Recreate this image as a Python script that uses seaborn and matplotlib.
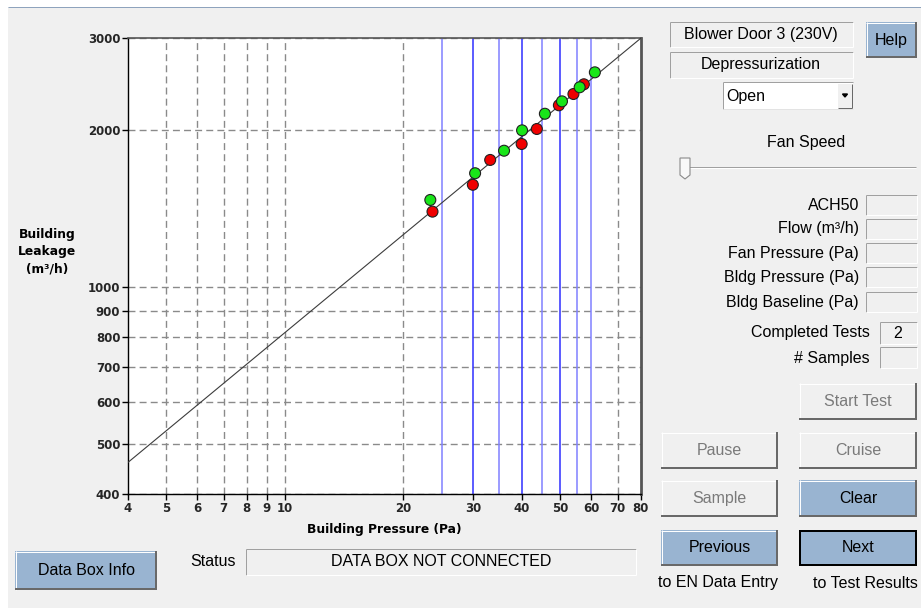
import matplotlib
matplotlib.use("Agg")
import matplotlib.pyplot as plt
import seaborn as sns
import pandas as pd
from matplotlib.patches import Rectangle, Polygon
from matplotlib.lines import Line2D
from matplotlib.ticker import NullLocator

# Building pressure (Pa) and measured leakage (m³/h) for the two completed tests
test1_pressure = [23.4, 30.4, 36.0, 40.0, 45.7, 50.5, 56.0, 61.2]
test1_flow = [1468, 1652, 1825, 1997, 2149, 2270, 2416, 2581]
test2_pressure = [23.7, 30.0, 33.2, 39.9, 43.6, 49.6, 54.0, 57.4]
test2_flow = [1394, 1570, 1752, 1880, 2009, 2231, 2345, 2448]

# Power-law fit drawn across the full pressure range
fit_pressure = [4, 80]
fit_flow = [460, 3000]

# Target pressure stations
target_pressures = [25, 30, 35, 40, 45, 50, 55, 60]

x_ticks = [4, 5, 6, 7, 8, 9, 10, 20, 30, 40, 50, 60, 70, 80]
y_ticks = [400, 500, 600, 700, 800, 900, 1000, 2000, 3000]

readout_labels = ["ACH50", "Flow (m³/h)", "Fan Pressure (Pa)",
                  "Bldg Pressure (Pa)", "Bldg Baseline (Pa)"]

sns.set_style("white")
plt.rcParams["font.family"] = ["Liberation Sans", "DejaVu Sans"]

W, H = 921, 608
BG = "#f0f0f0"
BLUE_BTN = "#99b4d1"
UI_SIZE = 11.5
CHART_FONT = ["DejaVu Sans"]
fig = plt.figure(figsize=(W / 100, H / 100), dpi=100, facecolor=BG)

PX = 0.72  # one pixel in points


def fx(x):
    return x / W


def fy(y):
    return 1 - y / H


def rect(x0, y0, x1, y1, fc, ec="none", lw=0, z=1):
    fig.add_artist(Rectangle((fx(x0), fy(y1)), fx(x1) - fx(x0), fy(y0) - fy(y1),
                             transform=fig.transFigure, facecolor=fc,
                             edgecolor=ec, linewidth=lw, zorder=z))


def seg(xs, ys, color, lw=1.0, z=2):
    fig.add_artist(Line2D([fx(v) for v in xs], [fy(v) for v in ys],
                          transform=fig.transFigure, color=color,
                          lw=lw * PX, zorder=z, solid_capstyle="butt"))


def text(x, y, s, size=UI_SIZE, ha="center", color="black", weight="normal", **kw):
    fig.text(fx(x), fy(y), s, ha=ha, va="center", fontsize=size,
             color=color, fontweight=weight, **kw)


def field(x0, y0, x1, y1, fc=BG):
    rect(x0, y0, x1, y1, fc)
    seg([x0, x1], [y0, y0], "#a0a0a0")
    seg([x0, x0], [y0, y1], "#a0a0a0")
    seg([x0, x1], [y1, y1], "white")
    seg([x1, x1], [y0, y1], "white")


def button(x0, y0, x1, y1, label, fc=BG, tc="black", strong=False):
    rect(x0, y0, x1, y1, fc)
    seg([x0, x1], [y0 + 0.5, y0 + 0.5], "white")
    seg([x0 + 0.5, x0 + 0.5], [y0, y1], "white")
    seg([x0, x1], [y1 - 1, y1 - 1], "#696969", lw=2)
    seg([x1 - 1, x1 - 1], [y0, y1], "#696969", lw=2)
    if strong:
        rect(x0 + 1, y0 + 1, x1 - 1, y1 - 1, "none", ec="black", lw=2 * PX, z=3)
    text((x0 + x1) / 2, (y0 + y1) / 2, label, color=tc)


# window frame
rect(0, 0, W, 7, "white")
rect(0, 0, 8, H, "white")
seg([8, W], [7, 7], "#8ea3bd")

# ---- chart ----
ax = fig.add_axes([fx(128), fy(494), fx(640.7) - fx(128), fy(38.3) - fy(494)])
ax.set_facecolor("white")
ax.set_xscale("log")
ax.set_yscale("log")
ax.set_xlim(4, 80)
ax.set_ylim(400, 3000)
ax.set_axisbelow(True)

ax.set_xticks(x_ticks)
ax.set_xticklabels([str(v) for v in x_ticks])
ax.set_yticks(y_ticks)
ax.set_yticklabels([str(v) for v in y_ticks])
ax.xaxis.set_minor_locator(NullLocator())
ax.yaxis.set_minor_locator(NullLocator())
ax.tick_params(axis="both", which="major", direction="out", length=4,
               width=1, color="black", labelsize=8.5, pad=1.5,
               bottom=True, left=True)
for lab in ax.get_xticklabels() + ax.get_yticklabels():
    lab.set_fontweight("bold")
    lab.set_family(CHART_FONT)

grid_style = dict(color="#8a8a8a", linestyle=(0, (5, 3)), lw=1.0)
ax.grid(True, axis="y", which="major", **grid_style)
for p in x_ticks[1:-1]:
    if p not in target_pressures:
        ax.axvline(p, zorder=0.5, **grid_style)

for p in target_pressures:
    strong = p % 10 == 0 and p < 60
    ax.axvline(p, color="#2f2fff" if strong else "#8080ff", lw=1.1, zorder=1.5)

sns.lineplot(x=fit_pressure, y=fit_flow, ax=ax, color="#3c3c3c", lw=0.8,
             zorder=3)

points = pd.DataFrame({
    "pressure": test2_pressure + test1_pressure,
    "flow": test2_flow + test1_flow,
    "test": ["2"] * len(test2_pressure) + ["1"] * len(test1_pressure),
})
sns.scatterplot(data=points, x="pressure", y="flow", hue="test",
                palette={"1": "#19e619", "2": "#f00000"}, s=62,
                edgecolor="#202020", linewidth=0.8, legend=False, ax=ax,
                zorder=5)
ax.set_xlabel("")
ax.set_ylabel("")

for side in ("left", "bottom"):
    ax.spines[side].set_color("black")
    ax.spines[side].set_linewidth(1.0)
ax.spines["top"].set_color("#555555")
ax.spines["top"].set_linewidth(1.2)
ax.spines["right"].set_color("#555555")
ax.spines["right"].set_linewidth(2.0)

text(47, 252, "Building\nLeakage\n(m³/h)", size=8.8, weight="bold",
     linespacing=1.45, family=CHART_FONT)
text(384, 530, "Building Pressure (Pa)", size=8.8, weight="bold",
     family=CHART_FONT)

# ---- control panel ----
field(670, 22, 853, 47)
text(761, 34, "Blower Door 3 (230V)")
field(670, 52, 853, 78)
text(761, 64, "Depressurization")
button(866, 22, 917, 58, "Help", fc=BLUE_BTN)

# dropdown
rect(723, 82, 853, 109, "white")
seg([723, 853], [82, 82], "#a0a0a0")
seg([723, 723], [82, 109], "#a0a0a0")
seg([723, 853], [109, 109], "#e3e3e3")
rect(838, 84, 852, 108, BG)
seg([838, 852], [107.5, 107.5], "#696969")
seg([851.5, 851.5], [84, 108], "#696969")
fig.add_artist(Polygon([(fx(842.5), fy(94)), (fx(847.5), fy(94)), (fx(845), fy(97))],
                       closed=True, transform=fig.transFigure, color="black",
                       zorder=3))
text(726, 96, "Open", ha="left")

text(806, 142, "Fan Speed")
seg([685, 916], [167, 167], "#a0a0a0")
seg([685, 916], [168, 168], "white")
fig.add_artist(Polygon([(fx(680), fy(158)), (fx(690), fy(158)), (fx(690), fy(175)),
                        (fx(685), fy(179)), (fx(680), fy(175))],
                       closed=True, transform=fig.transFigure, facecolor="#f8f8f8",
                       edgecolor="#8a8a8a", lw=0.8, zorder=3))

readout_y = [205, 229, 253, 277, 302]
for lab, yc in zip(readout_labels, readout_y):
    text(859, yc, lab, ha="right")
    field(866, yc - 10, 917, yc + 10)

text(870, 333, "Completed Tests", ha="right")
field(880, 322, 917, 344)
text(898, 333, "2")
text(870, 358, "# Samples", ha="right")
field(880, 347, 917, 368)

GRAY_TXT = "#7a7a7a"
button(799, 383, 917, 420, "Start Test", tc=GRAY_TXT)
button(661, 432, 778, 469, "Pause", tc=GRAY_TXT)
button(799, 432, 917, 469, "Cruise", tc=GRAY_TXT)
button(661, 480, 778, 517, "Sample", tc=GRAY_TXT)
button(799, 480, 917, 517, "Clear", fc=BLUE_BTN)
button(661, 530, 778, 566, "Previous", fc=BLUE_BTN)
button(799, 530, 917, 566, "Next", fc=BLUE_BTN, strong=True)
text(718, 583, "to EN Data Entry")
text(865, 583, "to Test Results")

button(15, 551, 157, 590, "Data Box Info", fc=BLUE_BTN)
text(213, 562, "Status")
field(246, 549, 636, 575)
text(441, 562, "DATA BOX NOT CONNECTED")

fig.savefig("out.png", dpi=100, facecolor=BG)
